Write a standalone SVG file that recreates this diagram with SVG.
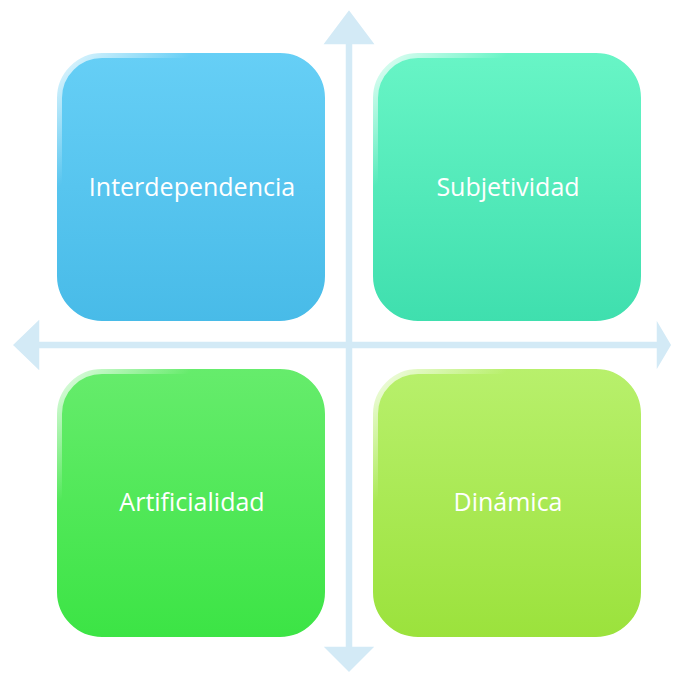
<svg xmlns="http://www.w3.org/2000/svg" width="673" height="679" viewBox="0 0 673 679">
<defs>
<linearGradient id="gTL" x1="0" y1="0" x2="0" y2="1"><stop offset="0" stop-color="#66cff6"/><stop offset="1" stop-color="#48bbe8"/></linearGradient>
<linearGradient id="gTR" x1="0" y1="0" x2="0" y2="1"><stop offset="0" stop-color="#68f5c6"/><stop offset="1" stop-color="#3fdfae"/></linearGradient>
<linearGradient id="gBL" x1="0" y1="0" x2="0" y2="1"><stop offset="0" stop-color="#66ec6c"/><stop offset="1" stop-color="#3ce445"/></linearGradient>
<linearGradient id="gBR" x1="0" y1="0" x2="0" y2="1"><stop offset="0" stop-color="#b8f06c"/><stop offset="1" stop-color="#9be23c"/></linearGradient>
<linearGradient id="gloss" x1="0" y1="0" x2="1" y2="1"><stop offset="0" stop-color="#ffffff" stop-opacity="0.85"/><stop offset="0.25" stop-color="#ffffff" stop-opacity="0"/><stop offset="1" stop-color="#ffffff" stop-opacity="0"/></linearGradient>
</defs>
<style>
.ax{fill:#d3eaf6;stroke:#ffffff;stroke-width:1.5;}
.box{stroke:#ffffff;stroke-width:2;}
.hl{fill:none;stroke:url(#gloss);stroke-width:6;}
.lbl{font-family:"Open Sans","Noto Sans",sans-serif;font-size:25px;fill:#ffffff;text-anchor:middle;}
</style>
<g id="connectors">
<path class="ax" d="M349,9 L376,45 L353,45 L353,341 L656,341 L656,318 L672,345 L656,372 L656,349 L353,349 L353,646 L376,646 L349,673 L322,646 L345,646 L345,349 L40,349 L40,372 L12,345 L40,318 L40,341 L345,341 L345,45 L322,45 Z"/>
</g>
<g id="n1">
<rect class="box" x="56" y="52" width="270" height="270" rx="46" fill="url(#gTL)"/>
<rect class="hl" x="59" y="55" width="264" height="264" rx="43"/>
<text class="lbl" x="192" y="196">Interdependencia</text>
</g>
<g id="n2">
<rect class="box" x="372" y="52" width="270" height="270" rx="46" fill="url(#gTR)"/>
<rect class="hl" x="375" y="55" width="264" height="264" rx="43"/>
<text class="lbl" x="508" y="196">Subjetividad</text>
</g>
<g id="n3">
<rect class="box" x="56" y="368" width="270" height="270" rx="46" fill="url(#gBL)"/>
<rect class="hl" x="59" y="371" width="264" height="264" rx="43"/>
<text class="lbl" x="192" y="511">Artificialidad</text>
</g>
<g id="n4">
<rect class="box" x="372" y="368" width="270" height="270" rx="46" fill="url(#gBR)"/>
<rect class="hl" x="375" y="371" width="264" height="264" rx="43"/>
<text class="lbl" x="508" y="511">Dinámica</text>
</g>
</svg>
